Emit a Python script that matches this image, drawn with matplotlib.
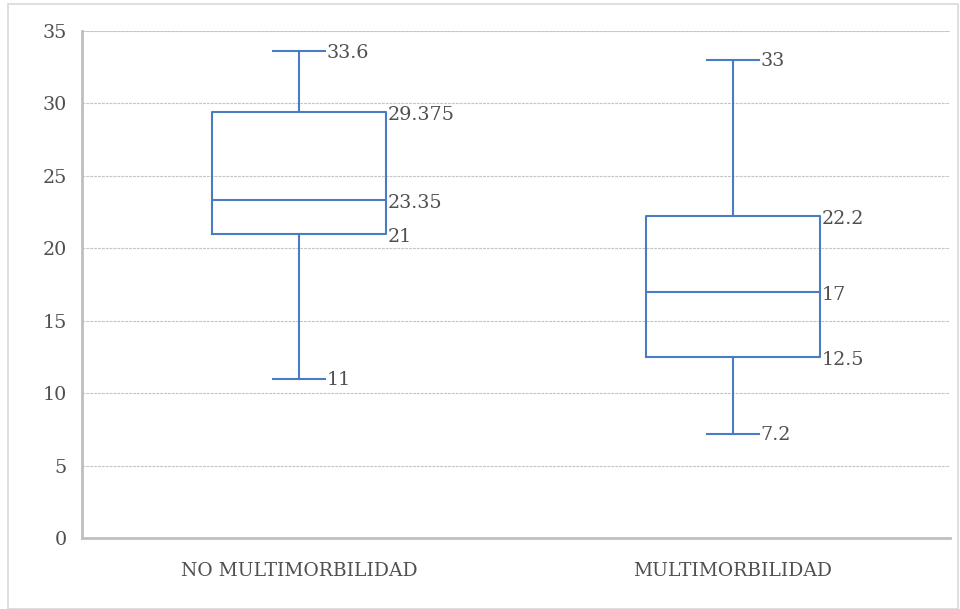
import matplotlib
matplotlib.use("Agg")
import matplotlib.pyplot as plt
from matplotlib.patches import Rectangle

# resumen de cada grupo (minimo, Q1, mediana, Q3, maximo)
grupos = ["NO MULTIMORBILIDAD", "MULTIMORBILIDAD"]
minimos = [11, 7.2]
q1 = [21, 12.5]
medianas = [23.35, 17]
q3 = [29.375, 22.2]
maximos = [33.6, 33]
yticks = [0, 5, 10, 15, 20, 25, 30, 35]

azul = "#4a7cc4"
gris = "#505050"
fuente = "DejaVu Serif"
tam = 13.8

fig = plt.figure(figsize=(9.6, 6.09), dpi=100)
ax = fig.add_axes([82 / 960, 1 - 538 / 609, 868 / 960, 507 / 609])

# marco exterior del grafico
fig.patches.append(Rectangle((8 / 960, 0), 950 / 960, 1 - 4 / 609, transform=fig.transFigure,
                             fill=False, edgecolor="#d9d9d9", linewidth=1.2))

stats = []
for i, g in enumerate(grupos):
    stats.append(dict(label=g, whislo=minimos[i], q1=q1[i], med=medianas[i],
                      q3=q3[i], whishi=maximos[i], fliers=[]))

ancho = 0.40
pos = [1, 2]
ax.bxp(stats, positions=pos, widths=ancho, showfliers=False, capwidths=0.12,
       boxprops=dict(color=azul, linewidth=1.5),
       whiskerprops=dict(color=azul, linewidth=1.5),
       capprops=dict(color=azul, linewidth=1.5),
       medianprops=dict(color=azul, linewidth=1.5))

# etiquetas de valores
for i, p in enumerate(pos):
    for v in (q1[i], medianas[i], q3[i]):
        ax.annotate(f"{v:g}", (p + ancho / 2, v), xytext=(1, -2), textcoords="offset points",
                    va="center", ha="left", color=gris, fontsize=tam, family=fuente)
    for v in (minimos[i], maximos[i]):
        ax.annotate(f"{v:g}", (p + 0.06, v), xytext=(1, -1), textcoords="offset points",
                    va="center", ha="left", color=gris, fontsize=tam, family=fuente)

ax.set_xlim(0.5, 2.5)
ax.set_ylim(0, 35)
ax.set_yticks(yticks)
ax.set_yticklabels([str(t) for t in yticks], color=gris, fontsize=tam, family=fuente)
ax.set_xticks(pos)
ax.set_xticklabels(grupos, color=gris, fontsize=13.5, family=fuente)
ax.tick_params(axis="y", length=0, pad=11)
ax.tick_params(axis="x", length=0, pad=17)

ax.yaxis.grid(True, color="#c4c4c4", linestyle=(0, (2.5, 1)), linewidth=0.8)
ax.set_axisbelow(True)
ax.axhline(35, color="#d0d0d0", linewidth=1.2, zorder=0)
for s in ("top", "right"):
    ax.spines[s].set_visible(False)
for s in ("left", "bottom"):
    ax.spines[s].set_color("#bfbfbf")
    ax.spines[s].set_linewidth(2)

fig.savefig("out.png", dpi=100)
